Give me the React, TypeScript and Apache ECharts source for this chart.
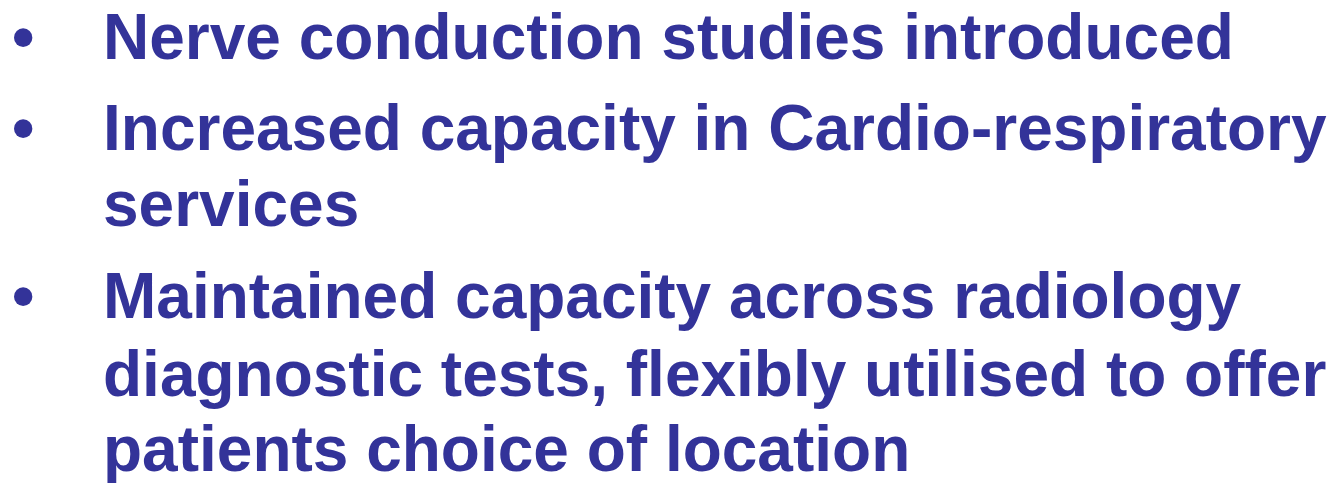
import React, { useEffect, useRef } from "react";
import * as echarts from "echarts";

// Slide content: each bullet is a list of wrapped lines
const bullet1Lines: string[] = ["Nerve conduction studies introduced"];
const bullet2Lines: string[] = ["Increased capacity in Cardio-respiratory", "services"];
const bullet3Lines: string[] = [
  "Maintained capacity across radiology",
  "diagnostic tests, flexibly utilised to offer",
  "patients choice of location",
];
const bullets: string[][] = [bullet1Lines, bullet2Lines, bullet3Lines];

// baselines (px) of each rendered line
const lineBaselines: number[] = [56, 147, 223, 315, 393, 468];

const COLOR = "#333399";
const FONT_SIZE = 64;
const FONT = "Liberation Sans, Arial, sans-serif";

export default function App() {
  const ref = useRef<HTMLDivElement>(null);
  useEffect(() => {
    if (!ref.current) return;
    const chart = echarts.init(ref.current, null, { renderer: "svg" });
    const elements: any[] = [];
    let li = 0;
    const midOffset = 19;
    bullets.forEach((lines) => {
      lines.forEach((line, j) => {
        const base = lineBaselines[li];
        if (j === 0) {
          elements.push({
            type: "text",
            x: 12,
            y: base - midOffset,
            style: {
              text: "\u2022",
              fill: COLOR,
              fontSize: FONT_SIZE,
              lineHeight: 64,
              fontFamily: FONT,
              fontWeight: "bold",
              verticalAlign: "middle",
              align: "left",
            },
          });
        }
        elements.push({
          type: "text",
          x: 103,
          y: base - midOffset,
          style: {
            text: line,
            fill: COLOR,
            fontSize: FONT_SIZE,
            lineHeight: 64,
            fontFamily: FONT,
            fontWeight: "bold",
            verticalAlign: "middle",
            align: "left",
          },
        });
        li++;
      });
    });
    chart.setOption({
      animation: false,
      backgroundColor: "#ffffff",
      graphic: { elements },
    });
    return () => chart.dispose();
  }, []);
  return (
    <div
      ref={ref}
      style={{ position: "fixed", left: 0, top: 0, width: 1333, height: 483 }}
    />
  );
}
